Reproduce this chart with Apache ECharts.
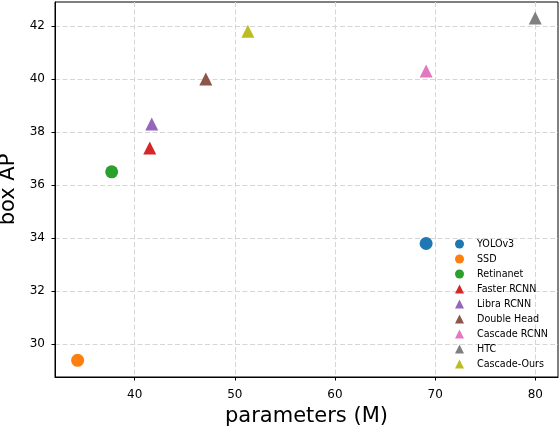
<!DOCTYPE html>
<html>
<head>
<meta charset="utf-8">
<script src="https://cdn.jsdelivr.net/npm/echarts@6/dist/echarts.min.js"></script>
<style>html,body{margin:0;padding:0;background:#fff;}#c{width:560px;height:426px;}</style>
</head>
<body>
<div id="c"></div>
<script>
const names = ['YOLOv3','SSD','Retinanet','Faster RCNN','Libra RCNN','Double Head','Cascade RCNN','HTC','Cascade-Ours'];
const params = [69.1, 34.3, 37.7, 41.5, 41.7, 47.1, 69.1, 80.0, 51.3];
const boxAP = [33.8, 29.4, 36.5, 37.4, 38.3, 40.0, 40.3, 42.3, 41.8];
const shapes = ['circle','circle','circle','triangle','triangle','triangle','triangle','triangle','triangle'];
const xTicks = [40, 50, 60, 70, 80];
const yTicks = [30, 32, 34, 36, 38, 40, 42];
const palette = ['#1f77b4','#ff7f0e','#2ca02c','#d62728','#9467bd','#8c564b','#e377c2','#7f7f7f','#bcbd22'];

const font = 'DejaVu Sans';
const series = names.map((n, i) => ({
  name: n,
  type: 'scatter',
  symbol: shapes[i],
  symbolSize: 13,
  itemStyle: { color: palette[i], opacity: 1 },
  data: [[params[i], boxAP[i]]],
  z: 3
}));

const chart = echarts.init(document.getElementById('c'), null, { renderer: 'canvas' });
chart.setOption({
  animation: false,
  backgroundColor: '#fff',
  grid: { left: 55, right: 2, top: 2, bottom: 49, show: true, borderColor: '#000', borderWidth: 1, backgroundColor: 'transparent', containLabel: false, outerBoundsMode: 'none' },
  xAxis: {
    type: 'value', min: 32.04, max: 82.27,
    name: 'parameters (M)', nameLocation: 'middle', nameGap: 26,
    nameTextStyle: { fontFamily: font, fontSize: 21, color: '#000' },
    axisLine: { show: true, lineStyle: { color: '#000', width: 1 } },
    axisTick: { show: true, length: 3.5, lineStyle: { color: '#000' }, customValues: xTicks },
    axisLabel: { fontFamily: font, fontSize: 12, color: '#000', margin: 12, customValues: xTicks },
    splitLine: { show: true, lineStyle: { color: '#d6d6d6', type: [5, 2.5], width: 1 } }
  },
  yAxis: {
    type: 'value', min: 28.77, max: 42.9,
    name: 'box AP', nameLocation: 'middle', nameGap: 26,
    nameTextStyle: { fontFamily: font, fontSize: 21, color: '#000' },
    axisLine: { show: true, lineStyle: { color: '#000', width: 1 } },
    axisTick: { show: true, length: 3.5, lineStyle: { color: '#000' }, customValues: yTicks },
    axisLabel: { fontFamily: font, fontSize: 12, color: '#000', margin: 10, customValues: yTicks },
    splitLine: { show: true, lineStyle: { color: '#d6d6d6', type: [5, 2.5], width: 1 } }
  },
  legend: {
    orient: 'vertical', left: 450, top: 234,
    itemWidth: 9, itemHeight: 9, itemGap: 5,
    textStyle: { fontFamily: font, fontSize: 9.6, color: '#000', lineHeight: 10, padding: [0, 0, 0, 8] },
    data: names
  },
  series: series
});
</script>
</body>
</html>
